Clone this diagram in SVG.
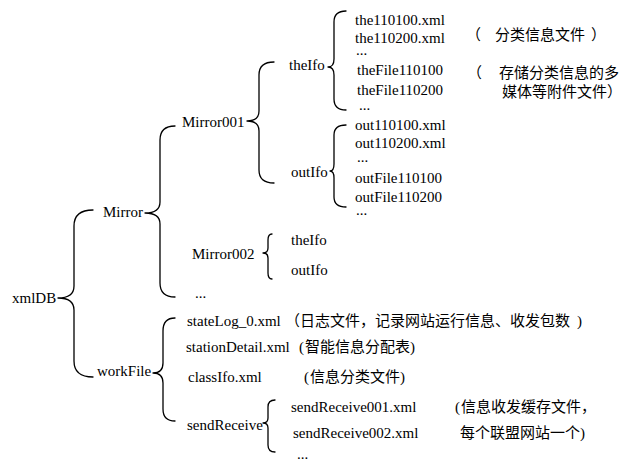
<svg xmlns="http://www.w3.org/2000/svg" width="632" height="461" viewBox="0 0 632 461">
<style>
text{font-family:"Liberation Serif","DejaVu Serif",serif;font-size:15px;fill:#000}
.zh{font-family:"Noto Sans CJK SC","Noto Sans CJK TC",sans-serif;font-size:15px}
.brace{fill:none;stroke:#000;stroke-width:1.3;stroke-linecap:round;stroke-linejoin:round}
</style>
<rect width="632" height="461" fill="#fff"/>
<g id="connectors">
<path class="brace" d="M93 210 Q74 210 74 226 L74 286 Q74 298 58 298 Q74 298 74 310 L74 361 Q74 377 93 377"/>
<path class="brace" d="M175 126 Q160 126 160 140 L160 202 Q160 213 145 213 Q160 213 160 224 L160 283 Q160 297 175 297"/>
<path class="brace" d="M274 62 Q259 62 259 75 L259 111 Q259 121 247 121 Q259 121 259 131 L259 170 Q259 183 274 183"/>
<path class="brace" d="M346 11 Q334 11 334 22 L334 59 Q334 67 328 67 Q334 67 334 75 L334 99 Q334 110 346 110"/>
<path class="brace" d="M346 125 Q334 125 334 135 L334 164 Q334 171 330 171 Q334 171 334 178 L334 197 Q334 207 346 207"/>
<path class="brace" d="M272 234 Q268 234 268 240 L268 248 Q268 253 263 253 Q268 253 268 258 L268 273 Q268 279 272 279"/>
<path class="brace" d="M175 318 Q163 318 163 331 L163 363 Q163 373 153 373 Q163 373 163 383 L163 409 Q163 421 175 421"/>
<path class="brace" d="M275 400 Q268 400 268 407 L268 418 Q268 423 263 423 Q268 423 268 428 L268 445 Q268 452 275 452"/>
</g>
<g id="xmlDB"><text x="12" y="303">xmlDB</text></g>
<g id="Mirror"><text x="103" y="217">Mirror</text></g>
<g id="Mirror001"><text x="182" y="127">Mirror001</text></g>
<g id="theIfo1"><text x="289" y="70">theIfo</text></g>
<g id="outIfo1"><text x="291" y="177">outIfo</text></g>
<g id="theIfoFiles">
<text x="355" y="25">the110100.xml</text>
<text x="355" y="43">the110200.xml</text>
<text x="356" y="55">...</text>
<text x="357" y="75">theFile110100</text>
<text x="357" y="95">theFile110200</text>
<text x="359" y="110">...</text>
</g>
<g id="outIfoFiles">
<text x="355" y="130">out110100.xml</text>
<text x="355" y="148">out110200.xml</text>
<text x="357" y="162">...</text>
<text x="355" y="183">outFile110100</text>
<text x="355" y="202">outFile110200</text>
<text x="356" y="215">...</text>
</g>
<g id="noteClass"><text class="zh" x="466" y="40">（<tspan x="495">分类信息文件</tspan><tspan x="591">）</tspan></text></g>
<g id="noteMedia">
<text class="zh" x="467" y="78">（<tspan x="499">存储分类信息的多</tspan></text>
<text class="zh" x="502" y="97">媒体等附件文件）</text>
</g>
<g id="Mirror002"><text x="192" y="259">Mirror002</text></g>
<g id="theIfo2"><text x="291" y="245">theIfo</text></g>
<g id="outIfo2"><text x="291" y="275">outIfo</text></g>
<g id="mirrorMore"><text x="195" y="298">...</text></g>
<g id="workFile"><text x="97" y="376">workFile</text></g>
<g id="stateLog"><text x="187" y="326">stateLog_0.xml<tspan class="zh" x="285">（日志文件，记录网站运行信息、收发包数</tspan><tspan x="577">)</tspan></text></g>
<g id="stationDetail"><text x="186" y="352">stationDetail.xml<tspan x="299">(</tspan><tspan class="zh" x="305">智能信息分配表</tspan><tspan x="410">)</tspan></text></g>
<g id="classIfo"><text x="188" y="382">classIfo.xml<tspan x="304">(</tspan><tspan class="zh" x="310">信息分类文件</tspan><tspan x="400">)</tspan></text></g>
<g id="sendReceive"><text x="187" y="430">sendReceive</text></g>
<g id="sendReceive001"><text x="291" y="412">sendReceive001.xml<tspan x="455">(</tspan><tspan class="zh" x="461">信息收发缓存文件，</tspan></text></g>
<g id="sendReceive002"><text x="293" y="438">sendReceive002.xml<tspan class="zh" x="460">每个联盟网站一个</tspan><tspan x="580">)</tspan></text></g>
<g id="sendMore"><text x="297" y="459" fill="#999">...</text></g>
</svg>
